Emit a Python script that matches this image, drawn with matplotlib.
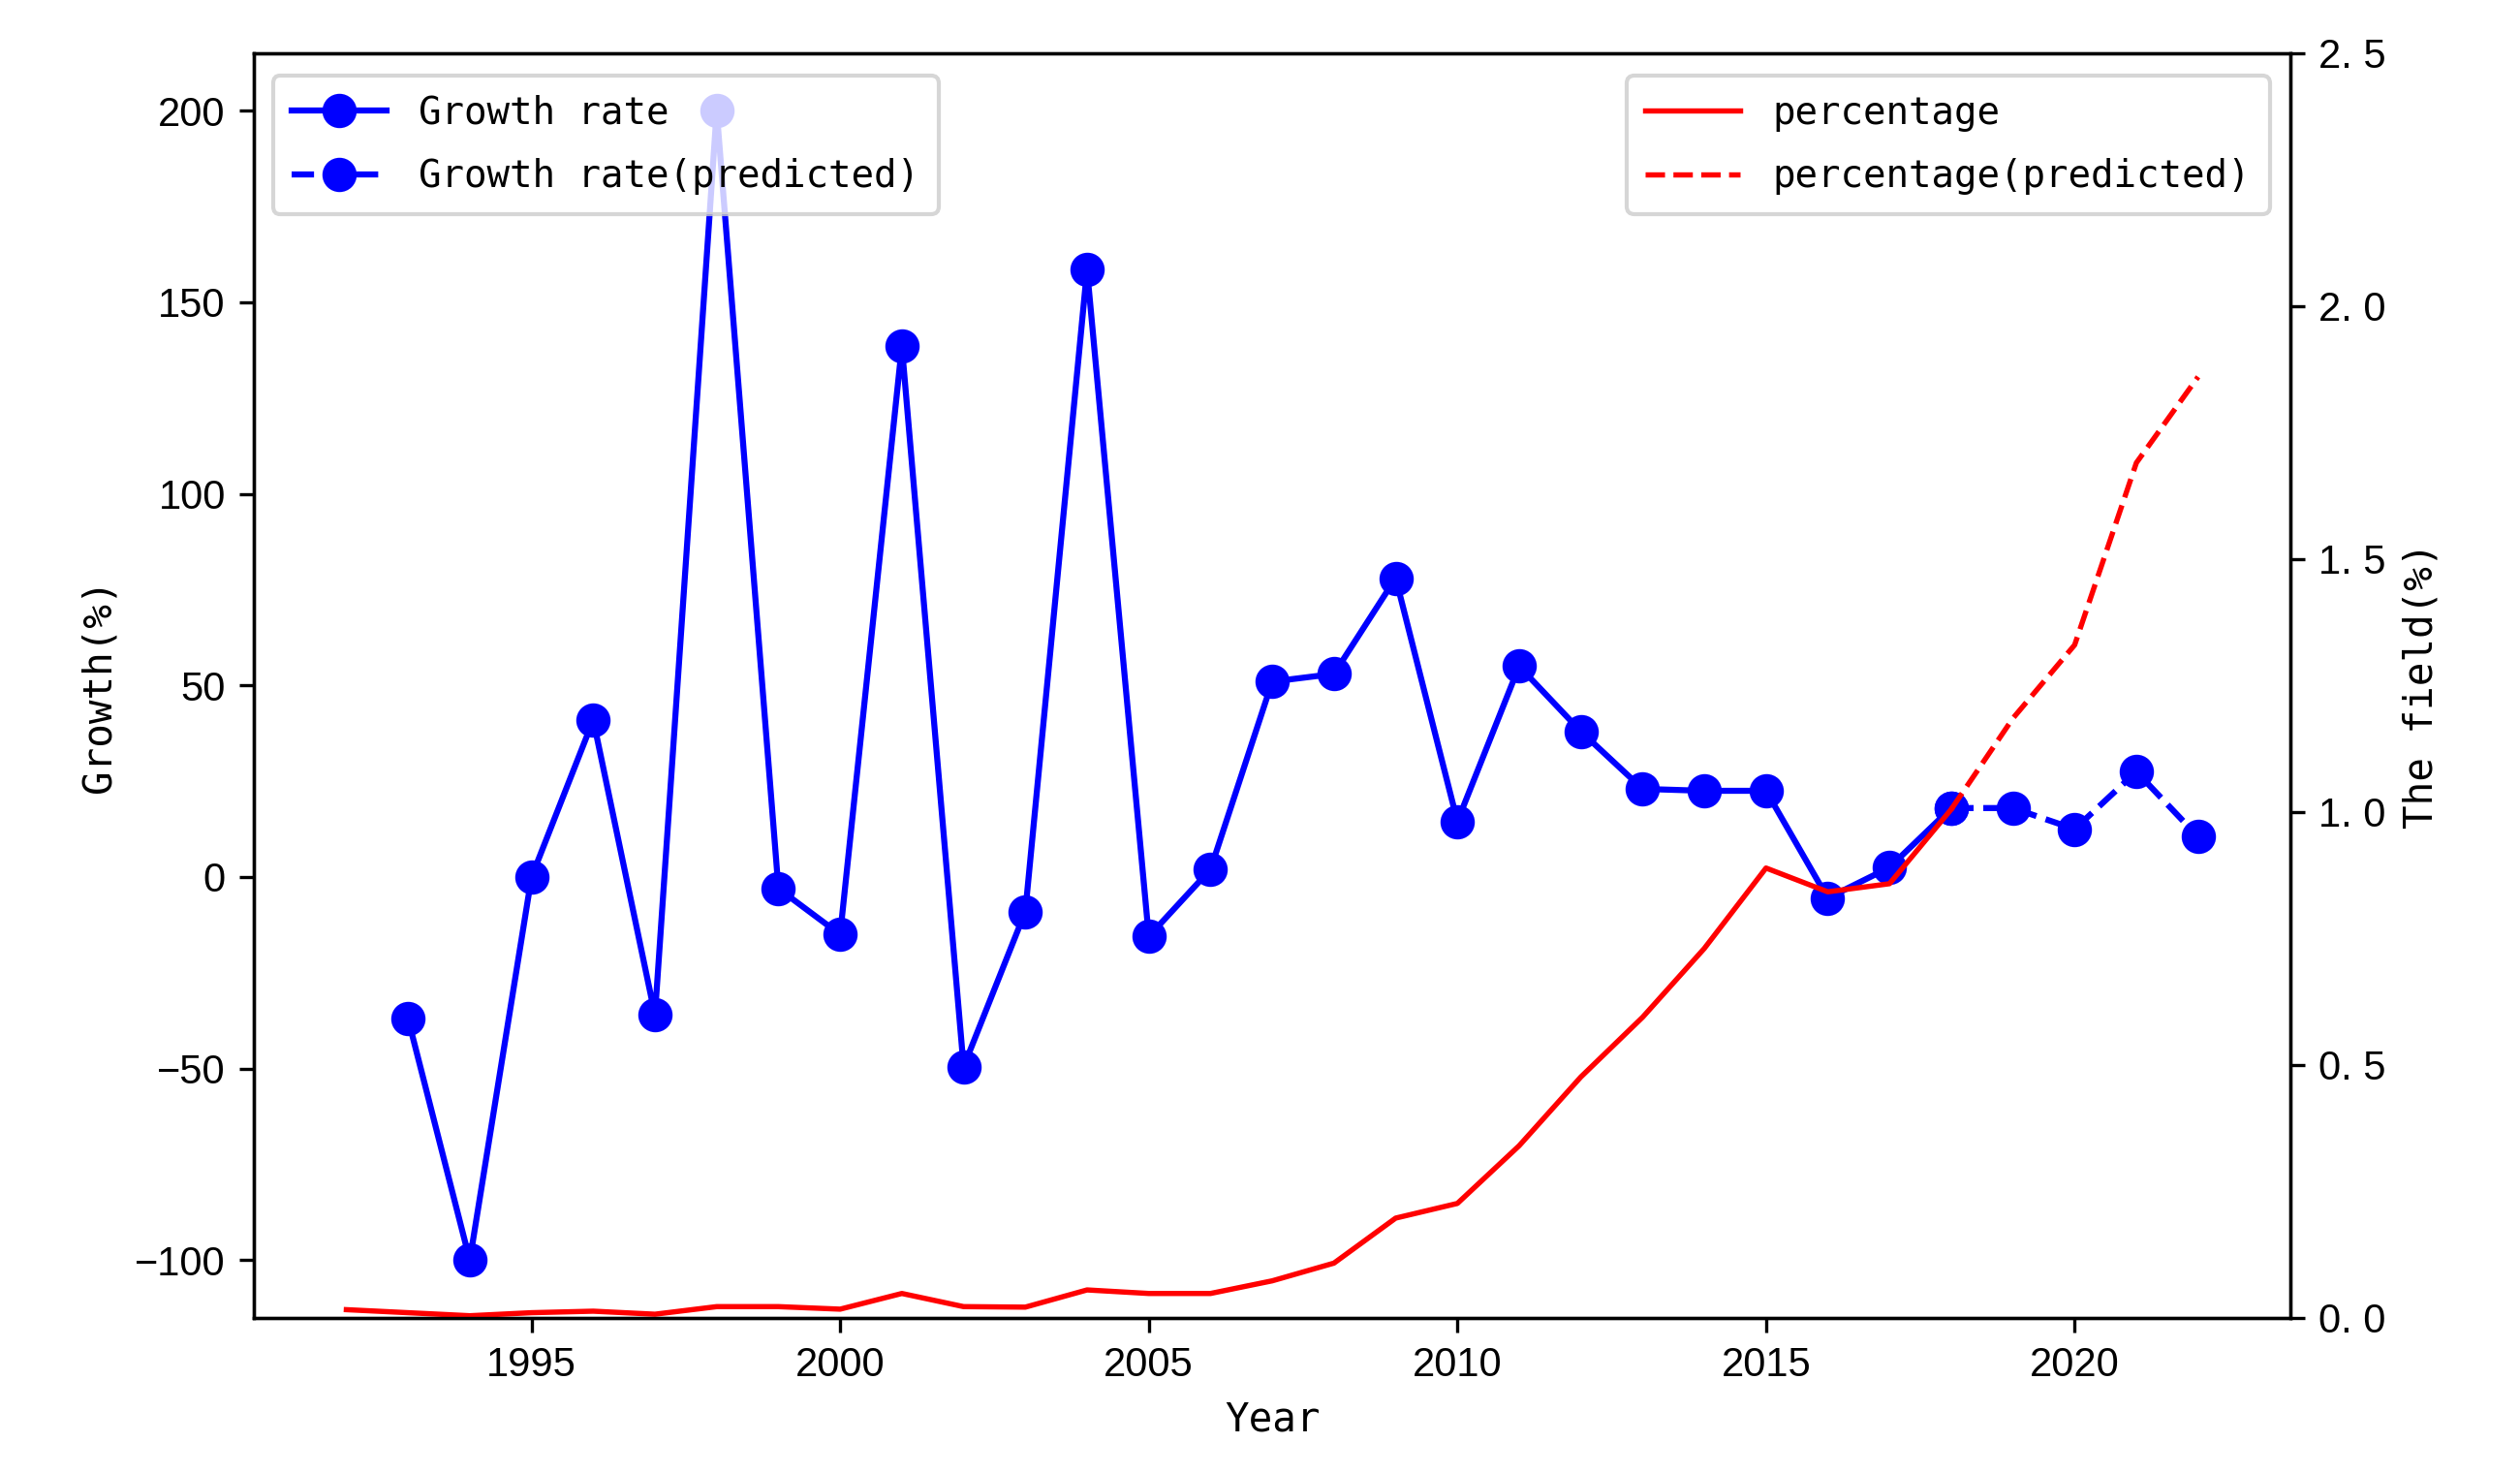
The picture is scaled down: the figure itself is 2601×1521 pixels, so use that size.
import matplotlib.pyplot as plt

# Datos
anios = [1993, 1994, 1995, 1996, 1997, 1998, 1999, 2000, 2001, 2002, 2003, 2004, 2005,
         2006, 2007, 2008, 2009, 2010, 2011, 2012, 2013, 2014, 2015, 2016, 2017, 2018]
crecimiento = [-37, -100, 0, 41, -36, 200, -3, -15, 138.5, -49.5, -9, 158.5, -15.5,
               2, 51, 53, 78, 14.5, 55, 38, 23, 22.5, 22.5, -5.5, 2.5, 18]

anios_pred = [2018, 2019, 2020, 2021, 2022]
crecimiento_pred = [18, 18, 12.5, 27.5, 10.5]

anios_pct = [1992, 1993, 1994, 1995, 1996, 1997, 1998, 1999, 2000, 2001, 2002, 2003, 2004,
             2005, 2006, 2007, 2008, 2009, 2010, 2011, 2012, 2013, 2014, 2015, 2016, 2017, 2018]
porcentaje = [0.016, 0.010, 0.004, 0.010, 0.013, 0.007, 0.022, 0.022, 0.017, 0.048, 0.022,
              0.021, 0.055, 0.048, 0.048, 0.073, 0.108, 0.197, 0.226, 0.34, 0.476, 0.594,
              0.73, 0.889, 0.842, 0.858, 1.005]

anios_pct_pred = [2018, 2019, 2020, 2021, 2022]
porcentaje_pred = [1.005, 1.185, 1.33, 1.69, 1.86]

fuente_mono = 'DejaVu Sans Mono'
plt.rcParams['font.family'] = ['Liberation Sans', 'DejaVu Sans']
plt.rcParams['font.size'] = 10

fig = plt.figure(figsize=(8.67, 5.07), dpi=300)
ax = fig.add_axes([0.1007, 0.106, 0.8083, 0.858])
ax2 = ax.twinx()

ax.plot(anios, crecimiento, 'o-', color='blue', lw=1.5, markersize=7.5, label='Growth rate')
ax.plot(anios_pred, crecimiento_pred, 'o--', color='blue', lw=1.5, markersize=7.5,
        label='Growth rate(predicted)')

ax2.plot(anios_pct, porcentaje, '-', color='red', lw=1.3, label='percentage')
ax2.plot(anios_pct_pred, porcentaje_pred, '--', color='red', lw=1.3,
         label='percentage(predicted)')

ax.set_xlim(1990.5, 2023.5)
ax.set_ylim(-115, 215)
ax2.set_ylim(0, 2.5)
ax2.set_yticks([0, 0.5, 1.0, 1.5, 2.0, 2.5])
ax2.set_yticklabels(['0. 0', '0. 5', '1. 0', '1. 5', '2. 0', '2. 5'])

ax.set_xlabel('Year', fontfamily=fuente_mono, fontsize=9.8)
ax.set_ylabel('Growth(%)', fontfamily=fuente_mono, fontsize=9.8)
ax2.set_ylabel('The field(%)', fontfamily=fuente_mono, fontsize=9.8)

ax.legend(loc='upper left', prop={'family': fuente_mono, 'size': 9.4}, handlelength=2.5,
          labelspacing=0.7, borderpad=0.5, handletextpad=0.85,
          bbox_to_anchor=(0.0, 0.997))
ax2.legend(loc='upper right', prop={'family': fuente_mono, 'size': 9.4}, handlelength=2.5,
           labelspacing=0.7, borderpad=0.5, handletextpad=0.85,
           bbox_to_anchor=(0.999, 0.997))

fig.savefig('out.png', dpi=300)
